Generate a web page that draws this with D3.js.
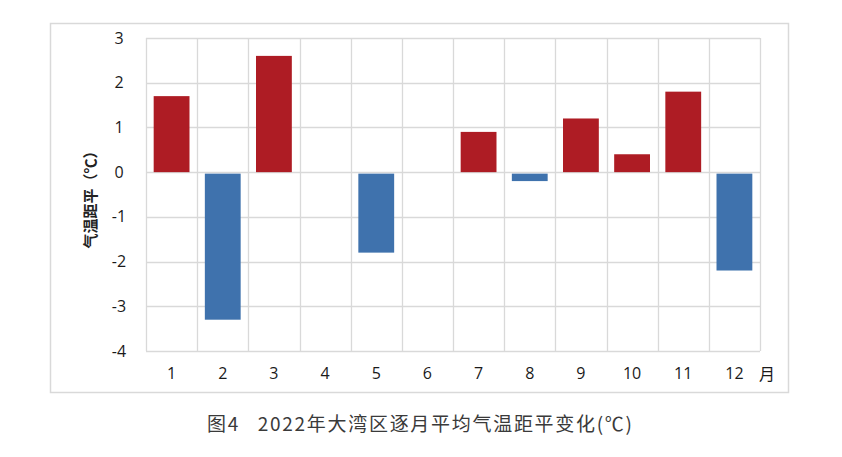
<!DOCTYPE html>
<html><head><meta charset="utf-8">
<script src="https://cdn.jsdelivr.net/npm/d3@7"></script>
<style>body{margin:0;background:#fff;}svg{display:block;}</style>
</head><body>
<script>
const months = ["1","2","3","4","5","6","7","8","9","10","11","12"];
const anomalies = [1.7, -3.3, 2.6, 0, -1.8, 0, 0.9, -0.2, 1.2, 0.4, 1.8, -2.2];
const yTicks = [3, 2, 1, 0, -1, -2, -3, -4];
const yLabel = "气温距平（℃）";
const xUnit = "月";
const caption = "图4\u00a0\u00a0\u00a02022年大湾区逐月平均气温距平变化(℃)";

const W = 842, H = 457;
const svg = d3.select("body").append("svg").attr("width", W).attr("height", H);
const plot = {left: 146, right: 760, top: 38, bottom: 351};

// outer frame
svg.append("rect").attr("x", 50.5).attr("y", 23.5).attr("width", 738).attr("height", 369)
  .attr("fill", "none").attr("stroke", "#d9d9d9").attr("stroke-width", 1.5);

const x = d3.scaleBand().domain(months).range([plot.left, plot.right]).paddingInner(0.3).paddingOuter(0.15);
const xGrid = d3.scaleLinear().domain([0, months.length]).range([plot.left, plot.right]);
const y = d3.scaleLinear().domain([-4, 3]).range([plot.bottom, plot.top]);

// horizontal grid
svg.append("g").selectAll("line").data(yTicks).join("line")
  .attr("x1", plot.left).attr("x2", plot.right)
  .attr("y1", d => Math.round(y(d)) + 0.5).attr("y2", d => Math.round(y(d)) + 0.5)
  .attr("stroke", "#d9d9d9").attr("stroke-width", 1.3);
// vertical grid
svg.append("g").selectAll("line").data(d3.range(months.length + 1)).join("line")
  .attr("x1", d => Math.round(xGrid(d)) + 0.5).attr("x2", d => Math.round(xGrid(d)) + 0.5)
  .attr("y1", plot.top).attr("y2", plot.bottom)
  .attr("stroke", "#d9d9d9").attr("stroke-width", 1.3);

// bars
svg.append("g").selectAll("rect").data(anomalies.map((v, i) => ({m: months[i], v})).filter(d => d.v !== 0)).join("rect")
  .attr("x", d => x(d.m))
  .attr("width", x.bandwidth())
  .attr("y", d => d.v >= 0 ? y(d.v) : y(0) + 1.5)
  .attr("height", d => Math.abs(y(d.v) - y(0)) - (d.v < 0 ? 1.5 : 0))
  .attr("fill", d => d.v >= 0 ? "#ae1c24" : "#3f72ad");

// y axis labels
const yAxis = d3.axisLeft(y).tickValues(yTicks).tickSize(0).tickPadding(0).tickFormat(d => String(d));
const gy = svg.append("g").attr("transform", `translate(126,0)`).call(yAxis);
gy.select(".domain").remove();
gy.selectAll("text").attr("font-family", "'Open Sans', 'Noto Sans', sans-serif").attr("font-size", 16)
  .attr("fill", "#1a1a1a").attr("text-anchor", "middle").attr("x", -7);

// x axis labels
const xAxis = d3.axisBottom(x).tickSize(0).tickPadding(0);
const gx = svg.append("g").attr("transform", `translate(0,${plot.bottom})`).call(xAxis);
gx.select(".domain").remove();
gx.selectAll("text").attr("font-family", "'Open Sans', 'Noto Sans', sans-serif").attr("font-size", 16)
  .attr("fill", "#1a1a1a").attr("dy", null).attr("y", 28);

svg.append("text").attr("x", 767).attr("y", plot.bottom + 29).attr("text-anchor", "middle")
  .attr("font-family", "'Noto Sans CJK SC', sans-serif").attr("font-size", 16).attr("fill", "#1a1a1a").text(xUnit);

// y title
svg.append("text").attr("transform", "translate(96,196) rotate(-90)").attr("text-anchor", "middle")
  .attr("font-family", "'Noto Sans CJK SC', sans-serif").attr("font-size", 15).attr("font-weight", "bold")
  .attr("fill", "#222").text(yLabel);

// caption
svg.append("text").attr("x", 207).attr("y", 431)
  .attr("font-family", "'Noto Sans CJK SC', sans-serif").attr("font-size", 19).attr("fill", "#3a3a3a")
  .attr("textLength", 425).attr("lengthAdjust", "spacing")
  .text(caption);
</script>
</body></html>
